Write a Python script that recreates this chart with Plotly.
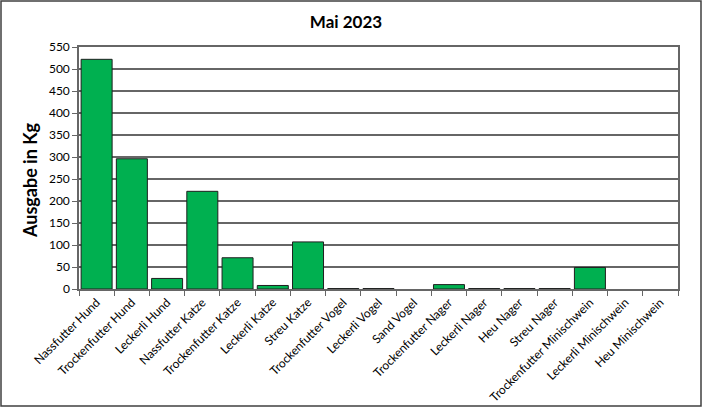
import plotly.graph_objects as go

categories = ["Nassfutter Hund", "Trockenfutter Hund", "Leckerli Hund", "Nassfutter Katze",
              "Trockenfutter Katze", "Leckerli Katze", "Streu Katze", "Trockenfutter Vogel",
              "Leckerli Vogel", "Sand Vogel", "Trockenfutter Nager", "Leckerli Nager",
              "Heu Nager", "Streu Nager", "Trockenfutter Minischwein", "Leckerli Minischwein",
              "Heu Minischwein"]
values = [522, 296, 24, 222, 71, 8, 107, 1, 1, 0, 10, 1, 1, 1, 49, 0, 0]
y_ticks = list(range(0, 551, 50))

W, H = 704, 409
ml, mr, mt, mb = 79, 26, 47, 120
pw, ph = W - ml - mr, H - mt - mb
FONT = "Lato, Open Sans, sans-serif"

fig = go.Figure(go.Bar(
    x=categories, y=values,
    marker=dict(color="#00B050",
                line=dict(color="#1f1f1f", width=[1 if v > 0 else 0 for v in values])),
))

fig.update_layout(
    width=W, height=H,
    margin=dict(l=ml, r=mr, t=mt, b=mb),
    paper_bgcolor="white", plot_bgcolor="white",
    bargap=0.12,
    showlegend=False,
    font=dict(family=FONT, color="black"),
    title=dict(text="<b>Mai 2023</b>", xref="container", x=346 / W, xanchor="center",
               yref="container", y=1 - 22 / H, yanchor="middle",
               font=dict(size=17, family=FONT, color="black")),
    shapes=[dict(type="rect", xref="paper", yref="paper",
                 x0=(1 - ml) / pw, x1=(W - 3 - ml) / pw,
                 y0=(mt + ph - (H - 3)) / ph, y1=(mt + ph - 1) / ph,
                 line=dict(color="#404040", width=1.5), fillcolor="rgba(0,0,0,0)", layer="below")],
    annotations=[dict(text="<b>Ausgabe in Kg</b>", xref="paper", yref="paper",
                      x=(30 - ml) / pw, y=(mt + ph - 180) / ph,
                      xanchor="center", yanchor="middle", textangle=-90, showarrow=False,
                      font=dict(size=18, family=FONT, color="black"))],
)

fig.update_xaxes(
    type="category", tickangle=-45, tickson="boundaries", automargin=False,
    ticks="outside", ticklen=5, tickcolor="#666",
    showline=True, linecolor="#666", linewidth=1.5, mirror=True,
    showgrid=False,
    tickfont=dict(size=12, family=FONT, color="black"),
)
fig.update_yaxes(
    range=[0, 550], tickvals=y_ticks, automargin=False,
    ticks="outside", ticklen=5, tickcolor="#666",
    showline=True, linecolor="#666", linewidth=1.5, mirror=True,
    showgrid=True, gridcolor="#666", gridwidth=1.5,
    zeroline=False,
    tickfont=dict(size=12, family=FONT, color="black"),
)

fig.write_html("out.html", config={"displayModeBar": False},
               post_script="document.body.style.margin='0';document.body.style.overflow='hidden';")
